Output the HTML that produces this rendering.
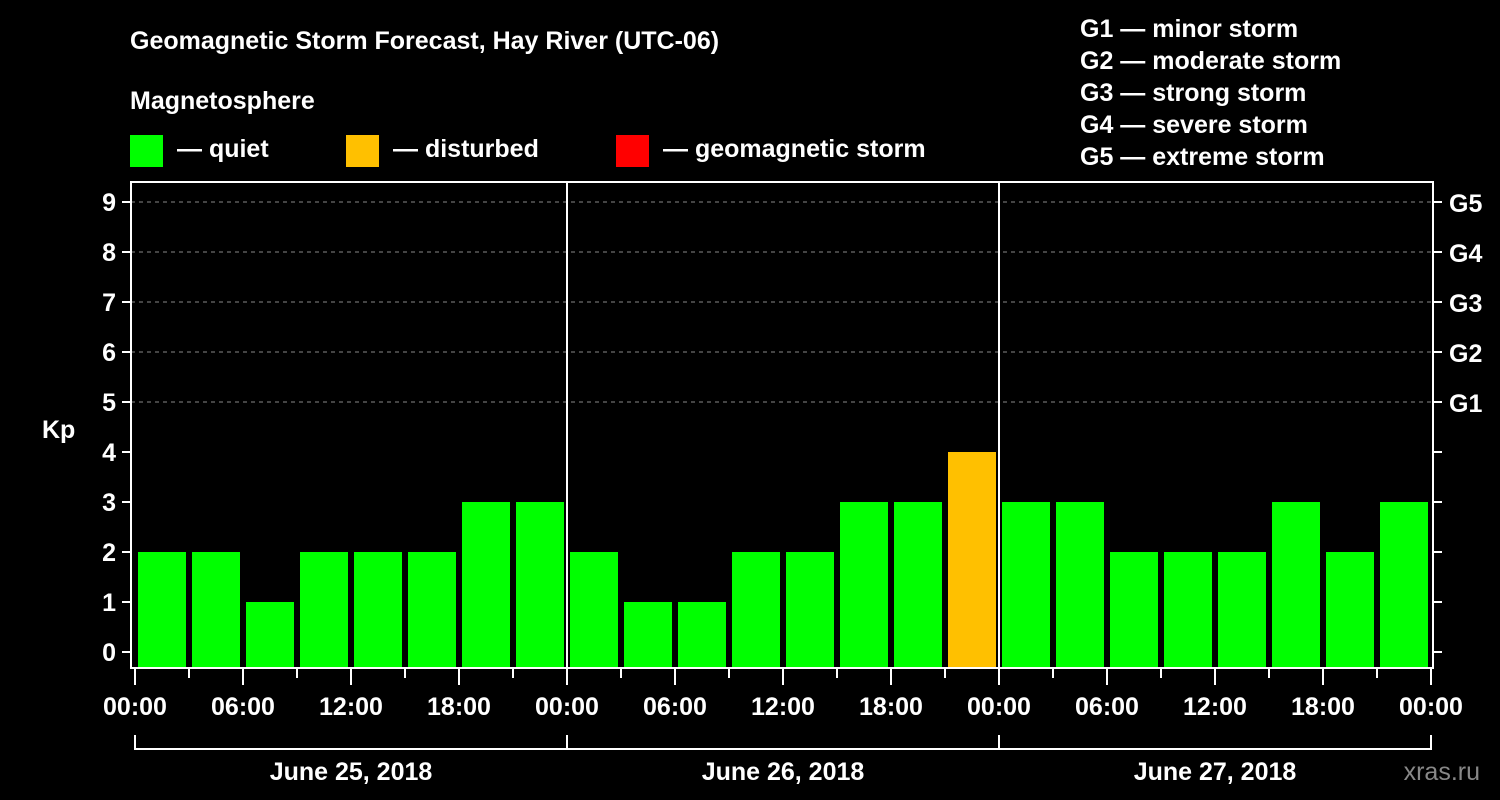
<!DOCTYPE html>
<html><head><meta charset="utf-8"><style>
body{margin:0;background:#000;width:1500px;height:800px;overflow:hidden}
svg{display:block;font-family:"Liberation Sans",sans-serif;font-weight:bold}
</style></head><body>
<svg id="c" width="1500" height="800">
<text x="130" y="49" fill="#fff" font-size="25">Geomagnetic Storm Forecast, Hay River (UTC-06)</text>
<text x="130" y="109" fill="#fff" font-size="25">Magnetosphere</text>
<rect x="130" y="135" width="33" height="32" fill="#00ff00"/>
<text x="177" y="157" fill="#fff" font-size="25">— quiet</text>
<rect x="346" y="135" width="33" height="32" fill="#ffc000"/>
<text x="393" y="157" fill="#fff" font-size="25">— disturbed</text>
<rect x="616" y="135" width="33" height="32" fill="#ff0000"/>
<text x="663" y="157" fill="#fff" font-size="25">— geomagnetic storm</text>
<g fill="#fff" font-size="25">
<text x="1080" y="37">G1 — minor storm</text>
<text x="1080" y="69">G2 — moderate storm</text>
<text x="1080" y="101">G3 — strong storm</text>
<text x="1080" y="133">G4 — severe storm</text>
<text x="1080" y="165">G5 — extreme storm</text>
</g>
<text x="42" y="438" fill="#fff" font-size="25">Kp</text>
<text x="1480" y="780" fill="#888" font-size="25" text-anchor="end" font-weight="normal">xras.ru</text>
<g id="plot"></g>
</svg>
<script>
const values=[2,2,1,2,2,2,3,3,2,1,1,2,2,3,3,4,3,3,2,2,2,3,2,3];
const yTicks=[0,1,2,3,4,5,6,7,8,9];
const gLabels=["G1","G2","G3","G4","G5"];
const xLabels=["00:00","06:00","12:00","18:00","00:00","06:00","12:00","18:00","00:00","06:00","12:00","18:00","00:00"];
const days=["June 25, 2018","June 26, 2018","June 27, 2018"];
const NS="http://www.w3.org/2000/svg",g=document.getElementById('plot');
const x0=135,slot=54,L=131,R=1433,T=182,B=668;
const y=v=>652-v*50;
const xs=i=>x0+i*slot;
function mk(t,a,txt){const e=document.createElementNS(NS,t);for(const k in a)e.setAttribute(k,a[k]);if(txt!==undefined)e.textContent=txt;g.appendChild(e);return e;}
yTicks.forEach(v=>{
 if(v>=5){const l=mk('line',{x1:L,x2:R,y1:y(v),y2:y(v),stroke:'#888','stroke-dasharray':'4,4'});
 
 }
 mk('line',{x1:L-9,x2:L,y1:y(v),y2:y(v),stroke:'#fff','stroke-width':2});
 mk('line',{x1:R,x2:R+9,y1:y(v),y2:y(v),stroke:'#fff','stroke-width':2});
 const t=mk('text',{x:116,y:y(v)+9,fill:'#fff','font-size':25,'text-anchor':'end'},v);
 
 
});
gLabels.forEach((s,i)=>{const t=mk('text',{x:1449,y:y(5+i)+10,fill:'#fff','font-size':25},s);
 
 });
values.forEach((v,i)=>{
 const c=v>=5?'#ff0000':v>=4?'#ffc000':'#00ff00';
 const r=mk('rect',{x:xs(i)+3,y:y(v),width:slot-6,height:667-y(v),fill:c});
 
 
});
mk('rect',{x:L,y:T,width:R-L,height:B-T,fill:'none',stroke:'#fff','stroke-width':2});
[1,2].forEach(d=>mk('line',{x1:xs(d*8),x2:xs(d*8),y1:T,y2:B,stroke:'#fff','stroke-width':2}));
for(let i=0;i<=24;i++){mk('line',{x1:xs(i),x2:xs(i),y1:B,y2:i%2==0?685:678,stroke:'#fff','stroke-width':2});}
xLabels.forEach((s,i)=>{const t=mk('text',{x:xs(i*2),y:715,fill:'#fff','font-size':25,'text-anchor':'middle'},s);
 
 });
mk('path',{d:`M${xs(0)} 735V749H${xs(24)}V735M${xs(8)} 735V749M${xs(16)} 735V749`,stroke:'#fff','stroke-width':2,fill:'none'});
days.forEach((s,i)=>{const t=mk('text',{x:xs(i*8+4),y:780,fill:'#fff','font-size':25,'text-anchor':'middle'},s);
 
 });
</script>
</body></html>
